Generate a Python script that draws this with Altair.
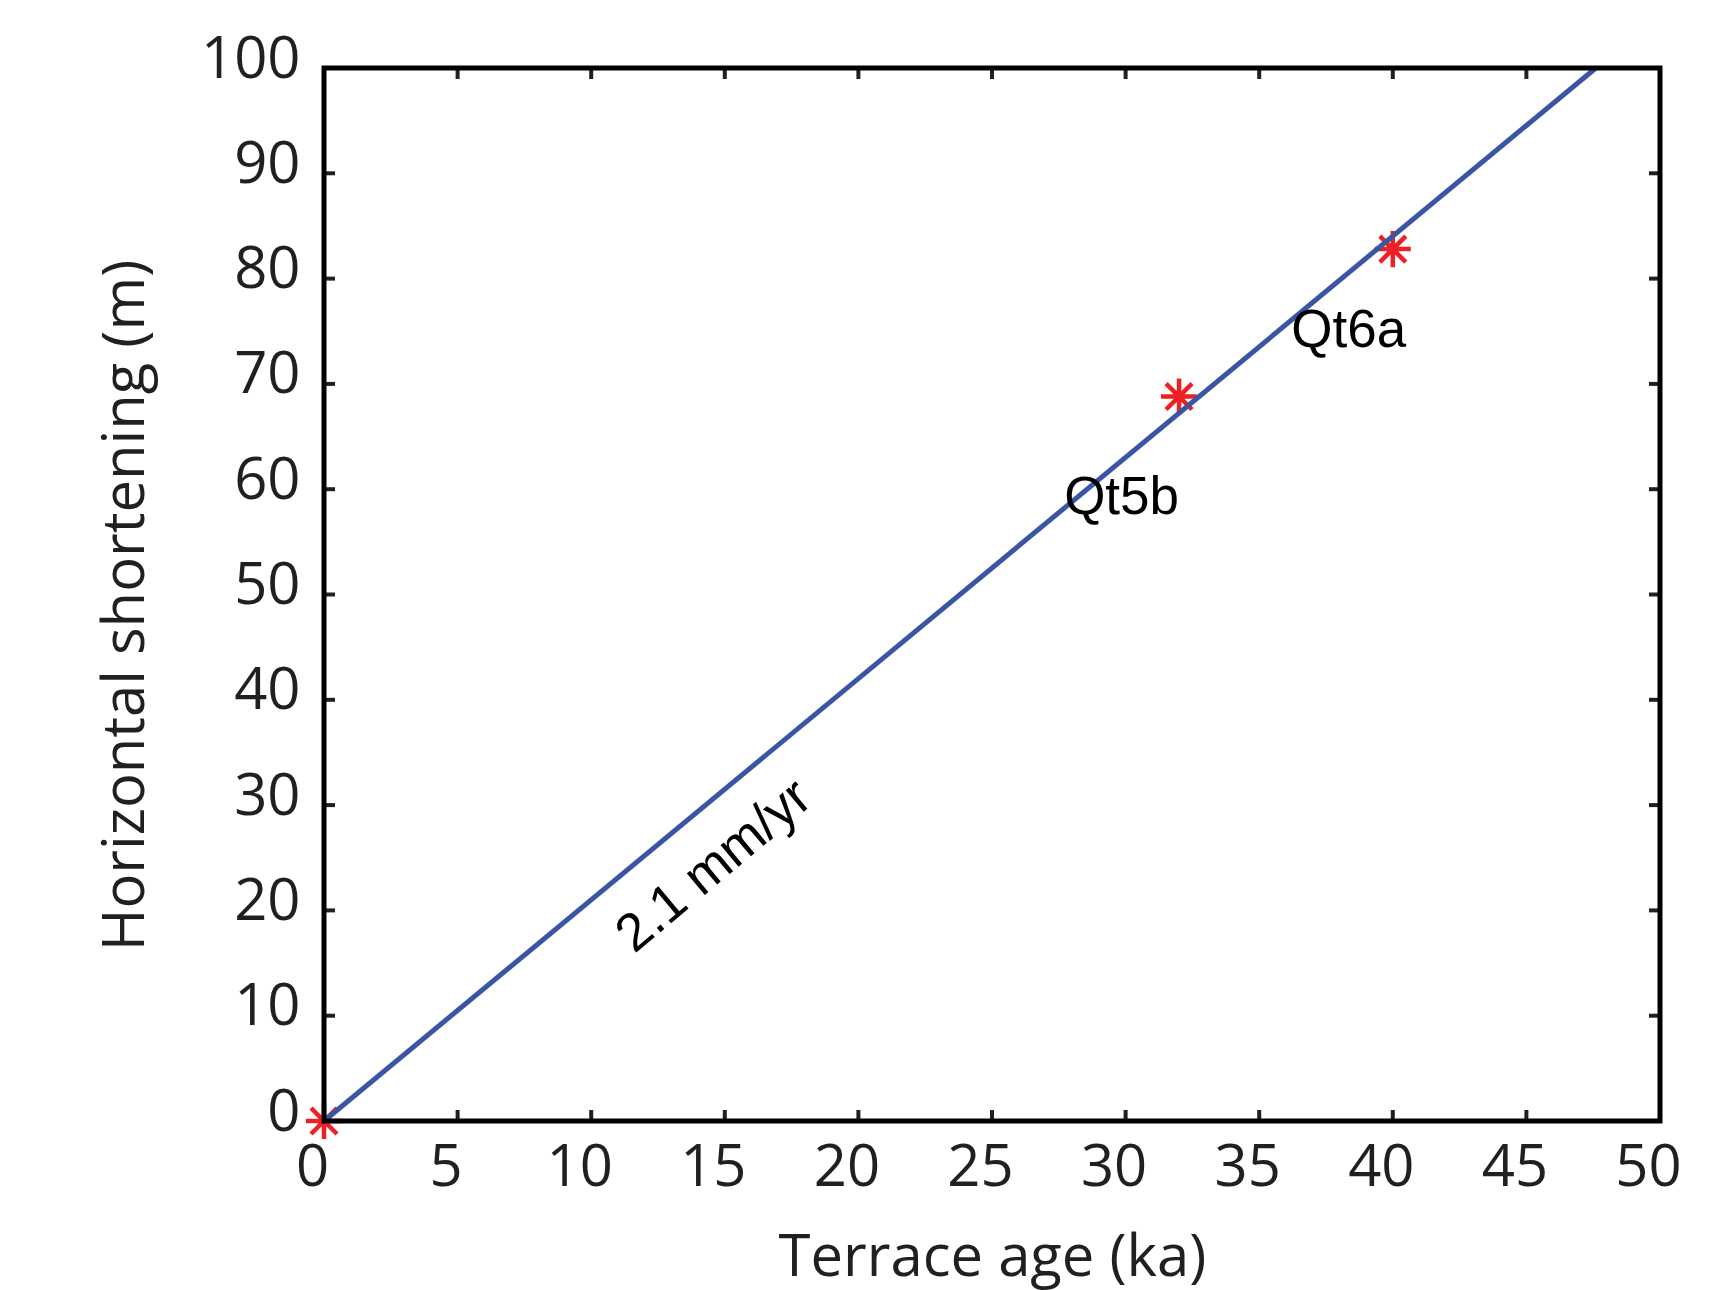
import altair as alt
import pandas as pd

# Data
x_ticks = [0, 5, 10, 15, 20, 25, 30, 35, 40, 45, 50]
y_ticks = [0, 10, 20, 30, 40, 50, 60, 70, 80, 90, 100]

pt_age = [0.0, 32.0, 40.0]
pt_short = [0.0, 68.8, 82.8]

line_age = [0.0, 47.6]
line_short = [0.0, 100.0]

lab_text = ["Qt5b", "Qt6a"]
lab_x = [27.7, 36.2]
lab_y = [57.6, 73.5]

rate_text = ["2.1 mm/yr"]
rate_x = [14.6]
rate_y = [24.2]

W, H = 1336, 1053
TICK = 11
INK = "#231F20"
FONT = "Open Sans"

xs = alt.Scale(domain=[0, 50], nice=False, zero=False)
ys = alt.Scale(domain=[0, 100], nice=False, zero=False)

pts_df = pd.DataFrame({"age": pt_age, "short": pt_short})
line_df = pd.DataFrame({"age": line_age, "short": line_short})
lab_df = pd.DataFrame({"t": lab_text, "age": lab_x, "short": lab_y})
rate_df = pd.DataFrame({"t": rate_text, "age": rate_x, "short": rate_y})
xt_df = pd.DataFrame({"v": x_ticks})
yt_df = pd.DataFrame({"v": y_ticks})
one = pd.DataFrame({"a": [0]})

asterisk = "M-1,0L1,0M0,-1L0,1M-0.72,-0.72L0.72,0.72M-0.72,0.72L0.72,-0.72"

x_axis = alt.Axis(
    values=x_ticks, ticks=False, domain=False, grid=False,
    labelFont=FONT, labelFontSize=58, labelColor=INK, labelPadding=18,
    labelOffset=-12, labelFlush=False,
    title="Terrace age (ka)", titleFont=FONT, titleFontSize=58,
    titleFontWeight="normal", titleColor=INK, titlePadding=32,
)
y_axis = alt.Axis(
    values=y_ticks, ticks=False, domain=False, grid=False,
    labelFont=FONT, labelFontSize=58, labelColor=INK, labelPadding=24,
    labelOffset=-8, labelFlush=False, labelBaseline="middle",
    title="Horizontal shortening (m)", titleFont=FONT, titleFontSize=58,
    titleFontWeight="normal", titleColor=INK, titlePadding=45,
    titleY=537,
)

points = alt.Chart(pts_df).mark_point(
    shape=asterisk, filled=False, stroke="#EE2024", strokeWidth=4.5,
    size=1300, opacity=1, clip=False
).encode(
    x=alt.X("age:Q", scale=xs, axis=x_axis),
    y=alt.Y("short:Q", scale=ys, axis=y_axis),
)

line = alt.Chart(line_df).mark_line(
    color="#3A55A4", strokeWidth=5, clip=False
).encode(
    x=alt.X("age:Q", scale=xs),
    y=alt.Y("short:Q", scale=ys),
)

labels = alt.Chart(lab_df).mark_text(
    font="Liberation Sans", fontSize=53, color="black",
    align="left", baseline="alphabetic"
).encode(
    x=alt.X("age:Q", scale=xs),
    y=alt.Y("short:Q", scale=ys),
    text="t:N",
)

rate = alt.Chart(rate_df).mark_text(
    font="Liberation Sans", fontSize=53, color="black",
    align="center", baseline="middle", angle=320
).encode(
    x=alt.X("age:Q", scale=xs),
    y=alt.Y("short:Q", scale=ys),
    text="t:N",
)

frame = alt.Chart(one).mark_rect(
    filled=False, stroke="black", strokeWidth=5
).encode(
    x=alt.value(0), x2=alt.value(W), y=alt.value(0), y2=alt.value(H)
)

tick_style = dict(color=INK, strokeWidth=4)
xt_bot = alt.Chart(xt_df).mark_rule(**tick_style).encode(
    x=alt.X("v:Q", scale=xs), y=alt.value(H), y2=alt.value(H - TICK))
xt_top = alt.Chart(xt_df).mark_rule(**tick_style).encode(
    x=alt.X("v:Q", scale=xs), y=alt.value(0), y2=alt.value(TICK))
yt_left = alt.Chart(yt_df).mark_rule(**tick_style).encode(
    y=alt.Y("v:Q", scale=ys), x=alt.value(0), x2=alt.value(TICK))
yt_right = alt.Chart(yt_df).mark_rule(**tick_style).encode(
    y=alt.Y("v:Q", scale=ys), x=alt.value(W), x2=alt.value(W - TICK))

chart = alt.layer(
    points, line, labels, rate, xt_bot, xt_top, yt_left, yt_right, frame
).properties(
    width=W, height=H,
    autosize=alt.AutoSizeParams(type="none"),
    padding={"left": 316, "top": 60, "right": 60, "bottom": 200},
).configure_view(stroke=None).configure(background="white")

chart.save("out.html", embed_options={"renderer": "svg", "actions": False})
